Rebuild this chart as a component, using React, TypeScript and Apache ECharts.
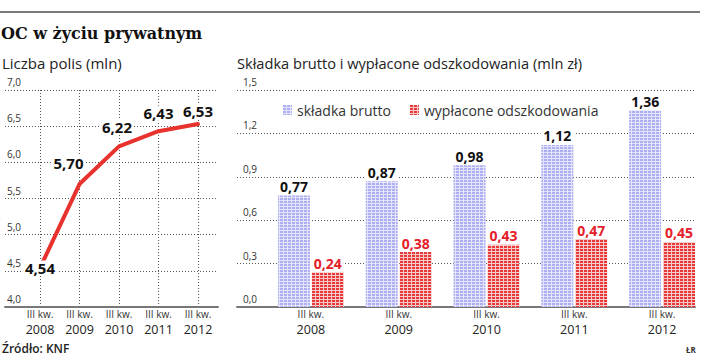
import { useEffect, useRef } from "react";
import * as echarts from "echarts";

const years = ["2008", "2009", "2010", "2011", "2012"];
const quarterText = "III kw.";
const policies = [4.54, 5.7, 6.22, 6.43, 6.53];
const premiums = [0.77, 0.87, 0.98, 1.12, 1.36];
const payouts = [0.24, 0.38, 0.43, 0.47, 0.45];
const leftAxis = { min: 4, max: 7, step: 0.5 };
const rightAxis = { min: 0, max: 1.5, step: 0.3 };
const seriesNames = ["składka brutto", "wypłacone odszkodowania"];
const titleText = "OC w życiu prywatnym";
const leftTitle = "Liczba polis (mln)";
const rightTitle = "Składka brutto i wypłacone odszkodowania (mln zł)";
const sourceText = "Źródło: KNF";
const authorText = "ŁR";

// layout only: label offsets for line labels
const lineLabelOffsets: [number, number][] = [
  [0, 0],
  [-11, -21],
  [-2, -19],
  [0, -18],
  [0, -13],
];

const FONT = "'Open Sans', 'Noto Sans', sans-serif";

function comma(v: number, d: number) {
  return v.toFixed(d).replace(".", ",");
}

function makePattern(fg: string, bg: string) {
  const c = document.createElement("canvas");
  c.width = 4;
  c.height = 3;
  const ctx = c.getContext("2d")!;
  ctx.fillStyle = bg;
  ctx.fillRect(0, 0, 4, 3);
  ctx.fillStyle = fg;
  ctx.fillRect(0, 0, 3, 2);
  return { image: c, repeat: "repeat", imageWidth: 4, imageHeight: 3 } as any;
}

export default function App() {
  const ref = useRef<HTMLDivElement>(null);
  useEffect(() => {
    if (!ref.current) return;
    document.body.style.margin = "0";
    const chart = echarts.init(ref.current, undefined, { renderer: "svg" });
    const bluePat = makePattern("#aeaef2", "#e4e4fa");
    const redPat = makePattern("#e63a3a", "#f7c9c9");
    const gridLine = { show: true, lineStyle: { color: "#555", type: [1, 2] as any, width: 1 } };
    const hiddenX = (g: number) => ({
      gridIndex: g,
      type: "value",
      min: 0,
      max: 1,
      axisLine: { show: true, onZero: false, lineStyle: { color: "#777", width: 2 } },
      axisTick: { show: false },
      axisLabel: { show: false },
      splitLine: { show: false },
    });
    const catAxis = (g: number, boundaryGap: boolean, kind: "q" | "y", split: boolean) => ({
      gridIndex: g,
      type: "category",
      position: "bottom",
      offset: 0,
      data: years,
      boundaryGap,
      axisLine: { show: false },
      axisTick: { show: false },
      axisLabel:
        kind === "q"
          ? { interval: 0, margin: 2, fontSize: 10, color: "#333", formatter: () => quarterText }
          : { interval: 0, margin: 16, fontSize: 12.5, color: "#222" },
      splitLine: split ? { ...gridLine, interval: 0 } : { show: false },
    });
    const option: any = {
      animation: false,
      textStyle: { fontFamily: FONT },
      grid: [
        { left: 5, right: 494, top: 90, bottom: 53 },
        { left: 40, right: 514, top: 90, bottom: 53 },
        { left: 237, right: 17, top: 90, bottom: 53 },
        { left: 267, right: 6, top: 90, bottom: 53 },
      ],
      xAxis: [
        hiddenX(0),
        catAxis(1, false, "q", true),
        hiddenX(2),
        catAxis(3, true, "q", false),
        catAxis(1, false, "y", false),
        catAxis(3, true, "y", false),
      ],
      yAxis: [
        {
          gridIndex: 0,
          type: "value",
          min: leftAxis.min,
          max: leftAxis.max,
          interval: leftAxis.step,
          axisLine: { show: false },
          axisTick: { show: false },
          axisLabel: {
            inside: true,
            margin: 2,
            verticalAlign: "bottom",
            padding: [0, 0, 3, 0],
            fontSize: 10,
            color: "#333",
            formatter: (v: number) => comma(v, 1),
          },
          splitLine: gridLine,
        },
        { gridIndex: 1, type: "value", min: leftAxis.min, max: leftAxis.max, show: false },
        {
          gridIndex: 2,
          type: "value",
          min: rightAxis.min,
          max: rightAxis.max,
          interval: rightAxis.step,
          axisLine: { show: false },
          axisTick: { show: false },
          axisLabel: {
            inside: true,
            margin: 6,
            verticalAlign: "bottom",
            padding: [0, 0, 3, 0],
            fontSize: 10,
            color: "#333",
            formatter: (v: number) => comma(v, 1),
          },
          splitLine: gridLine,
        },
        { gridIndex: 3, type: "value", min: rightAxis.min, max: rightAxis.max, show: false },
      ],
      legend: {
        left: 278,
        top: 98,
        itemGap: 19,
        itemWidth: 9,
        itemHeight: 10,
        icon: "rect",
        data: seriesNames,
        textStyle: { fontSize: 14, color: "#333", fontFamily: FONT },
      },
      series: [
        {
          type: "line",
          xAxisIndex: 1,
          yAxisIndex: 1,
          data: policies.map((v, i) => ({ value: v, label: { offset: lineLabelOffsets[i] } })),
          symbol: "circle",
          symbolSize: 1,
          itemStyle: { color: "#e8322e" },
          lineStyle: { color: "#e8322e", width: 4, join: "round", cap: "round" },
          label: {
            show: true,
            position: "inside",
            fontSize: 15,
            fontWeight: "bold",
            color: "#111",
            backgroundColor: "#fff",
            padding: [0, 2],
            formatter: (p: any) => comma(p.value, 2),
          },
          z: 5,
        },
        {
          type: "bar",
          name: seriesNames[0],
          xAxisIndex: 3,
          yAxisIndex: 3,
          data: premiums,
          barWidth: 32,
          barGap: "6%",
          itemStyle: { color: bluePat },
          label: {
            show: true,
            position: "top",
            distance: 2,
            fontSize: 14,
            fontWeight: "bold",
            color: "#111",
            backgroundColor: "#fff",
            padding: [0, 3],
            formatter: (p: any) => comma(p.value, 2),
          },
        },
        {
          type: "bar",
          name: seriesNames[1],
          xAxisIndex: 3,
          yAxisIndex: 3,
          data: payouts,
          barWidth: 32,
          itemStyle: { color: redPat },
          label: {
            show: true,
            position: "top",
            distance: 2,
            fontSize: 14,
            fontWeight: "bold",
            color: "#e4202a",
            backgroundColor: "#fff",
            padding: [0, 3],
            formatter: (p: any) => comma(p.value, 2),
          },
        },
      ],
      graphic: [
        {
          type: "line",
          shape: { x1: 0, y1: 12, x2: 700, y2: 12 },
          style: { stroke: "#7a7a7a", lineWidth: 2 },
        },
        {
          type: "text",
          x: 1,
          y: 33,
          style: {
            text: titleText,
            fontSize: 16,
            fontWeight: "bold",
            fontFamily: "'DejaVu Serif', serif",
            fill: "#111",
            verticalAlign: "middle",
          },
        },
        {
          type: "text",
          x: 2,
          y: 63,
          style: { text: leftTitle, fontSize: 15, fontFamily: FONT, fill: "#222", verticalAlign: "middle" },
        },
        {
          type: "text",
          x: 237,
          y: 63,
          style: { text: rightTitle, fontSize: 14.6, fontFamily: FONT, fill: "#222", verticalAlign: "middle" },
        },
        {
          type: "text",
          x: 2,
          y: 348,
          style: { text: sourceText, fontSize: 12, fontWeight: 600, fontFamily: FONT, fill: "#222", verticalAlign: "middle" },
        },
        {
          type: "text",
          x: 686,
          y: 349,
          style: { text: authorText, fontSize: 8, fontWeight: "bold", fontFamily: FONT, fill: "#333", verticalAlign: "middle" },
        },
      ],
    };
    chart.setOption(option);
    return () => chart.dispose();
  }, []);
  return <div ref={ref} style={{ width: 712, height: 360 }} />;
}
